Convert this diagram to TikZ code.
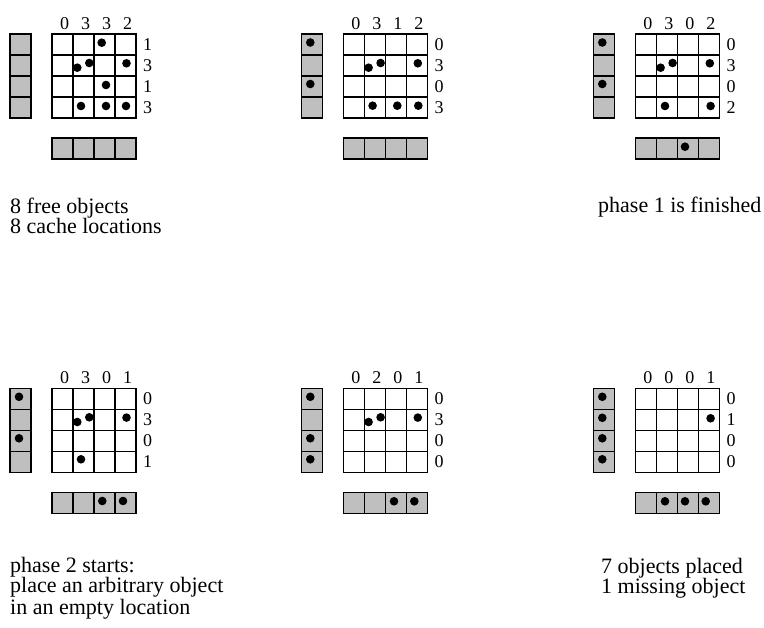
\documentclass[tikz,border=0pt]{standalone}
\usepackage{fontspec}
\setmainfont{Liberation Serif}
\definecolor{boxgray}{rgb}{0.75,0.75,0.75}
\tikzset{
  cellline/.style={line width=1.2pt, line cap=rect},
  lab/.style={font=\fontsize{18}{18}\selectfont, inner sep=0pt},
  txt/.style={font=\fontsize{22}{18.5}\selectfont, inner sep=0pt, anchor=base west, align=left},
  dotf/.style={fill=black}
}
\newcommand\gridpanel[5]{%
  \begin{scope}[shift={(#1,#2)}]
    \foreach \i in {0,...,4}{
      \draw[cellline] (\i*21,0) -- (\i*21,84);
      \draw[cellline] (0,\i*21) -- (84,\i*21);
    }
    \fill[boxgray] (-42,0) rectangle (-21,84);
    \foreach \i in {0,...,4} \draw[cellline] (-42,\i*21) -- (-21,\i*21);
    \draw[cellline] (-42,0) -- (-42,84) (-21,0) -- (-21,84);
    \fill[boxgray] (0,104) rectangle (84,125);
    \foreach \i in {0,...,4} \draw[cellline] (\i*21,104) -- (\i*21,125);
    \draw[cellline] (0,104) -- (84,104) (0,125) -- (84,125);
    \foreach \v [count=\k from 0] in {#3}
      \node[lab, anchor=base] (#5c\k) at (\k*21+12.5,-4.5) {\v};
    \foreach \v [count=\k from 0] in {#4}
      \node[lab, anchor=west] (#5r\k) at (91,\k*21+10.5) {\v};
  \end{scope}}
\newcommand\dotsat[3]{%
  \begin{scope}[shift={(#1,#2)}]
    \foreach \p in {#3} \fill[dotf] \p circle[radius=4.3];
  \end{scope}}
\begin{document}
\begin{tikzpicture}[x=1pt,y=-1pt]
  \useasboundingbox (0,0) rectangle (764,628);
  % panel 1
  \gridpanel{52}{34}{0,3,3,2}{1,3,1,3}{a}
  \dotsat{52}{34}{(49.7,8.7),(25.3,33.7),(37.3,29),(74.5,29.3),(54,51),(29,72),(54,72),(74,72)}
  % panel 2
  \gridpanel{343.3}{34}{0,3,1,2}{0,3,0,3}{b}
  \dotsat{343.3}{34}{(25.3,33.7),(37.3,29),(74.5,29.3),(29.3,71.7),(54,71.7),(75,71.7),(-33,8.5),(-33,50)}
  % panel 3
  \gridpanel{635.3}{34}{0,3,0,2}{0,3,0,2}{c}
  \dotsat{635.3}{34}{(25.3,33.7),(37.3,29),(74.5,29.3),(29.7,72),(75.3,72),(-33,8.5),(-33,50),(49.7,112.7)}
  % panel 4
  \gridpanel{52}{388.3}{0,3,0,1}{0,3,0,1}{d}
  \dotsat{52}{388.3}{(25.3,33.7),(37.3,29),(74.5,29.3),(29,71),(-33,8.5),(-33,50),(50.3,112.7),(71,112.7)}
  % panel 5
  \gridpanel{343.3}{388.3}{0,2,0,1}{0,3,0,0}{e}
  \dotsat{343.3}{388.3}{(25.3,33.7),(37.3,29),(74.5,29.3),(-33,8.5),(-33,50),(-33,71),(50.7,113),(71,113)}
  % panel 6
  \gridpanel{635.3}{388.3}{0,0,0,1}{0,1,0,0}{f}
  \dotsat{635.3}{388.3}{(75.3,30),(-33,8.5),(-33,29.5),(-33,50),(-33,71),(29.7,113),(49.7,113),(70.4,113)}
  % texts
  \node[txt] (t1) at (10,234) {8 free objects\\8 cache locations};
  \node[txt] (t3) at (598,213) {phase 1 is finished};
  \node[txt] (t4) at (10,614) {phase 2 starts:\\place an arbitrary object\\in an empty location};
  \node[txt] (t7) at (601,594) {7 objects placed\\1 missing object};
\end{tikzpicture}
\end{document}
